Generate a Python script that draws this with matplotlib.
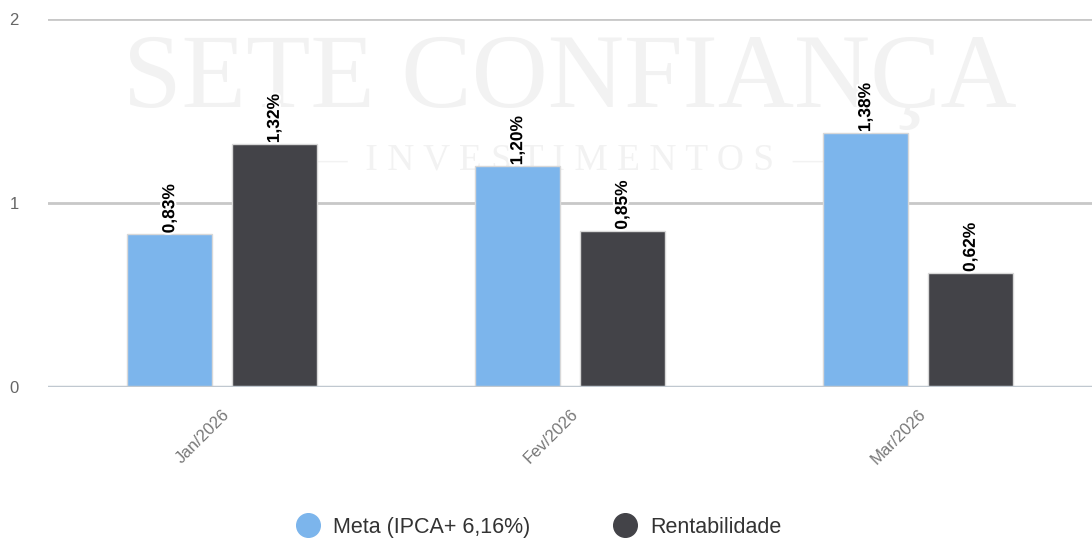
import matplotlib.pyplot as plt
import matplotlib.patheffects as pe
import numpy as np

plt.rcParams["font.family"] = ["Liberation Sans", "DejaVu Sans"]

# --- data ---
meses = ["Jan/2026", "Fev/2026", "Mar/2026"]
meta = [0.83, 1.20, 1.38]
rentabilidade = [1.32, 0.85, 0.62]
rotulos_meta = ["0,83%", "1,20%", "1,38%"]
rotulos_rent = ["1,32%", "0,85%", "0,62%"]
series_nomes = ["Meta (IPCA+ 6,16%)", "Rentabilidade"]

azul = "#7cb5ec"
escuro = "#434348"

fig = plt.figure(figsize=(10.92, 5.38), dpi=100)
ax = fig.add_axes([0.044, 0.2807, 0.956, 0.684])

x = np.arange(len(meses))
w = 0.244
gap = 0.057
off = (w + gap) / 2

b1 = ax.bar(x - off, meta, w, color=azul, edgecolor="#d8d8d8", linewidth=1, zorder=3)
b2 = ax.bar(x + off, rentabilidade, w, color=escuro, edgecolor="#d8d8d8", linewidth=1, zorder=3)

# rotulos das barras
halo = [pe.withStroke(linewidth=3, foreground="white")]
for bars, labs in [(b1, rotulos_meta), (b2, rotulos_rent)]:
    for b, lab in zip(bars, labs):
        ax.text(b.get_x() + b.get_width() / 2, b.get_height() + 0.005, lab,
                rotation=90, ha="center", va="bottom", fontsize=12.5,
                fontweight="bold", color="black", path_effects=halo, zorder=5)

# marca d'agua
ax.text(0.5, 0.83, "SETE CONFIANÇA", transform=ax.transAxes, ha="center",
        va="center", fontsize=76, family="Liberation Serif", color="#f2f2f2", zorder=1)
ax.text(0.5, 0.615, "—  I N V E S T I M E N T O S  —", transform=ax.transAxes,
        ha="center", va="center", fontsize=27, family="Liberation Serif",
        color="#f2f2f2", zorder=1)

ax.set_xlim(-0.5, 2.5)
ax.set_ylim(0, 2)
ax.set_yticks([0, 1, 2])
ax.yaxis.grid(True, color="#c8c8c8", linewidth=2, zorder=0)
ax.set_axisbelow(True)
for s in ax.spines.values():
    s.set_visible(False)
ax.axhline(0, color="#c0c8d0", linewidth=2.5, zorder=4)
ax.tick_params(axis="y", length=0, pad=21, labelsize=12, labelcolor="#666666")
ax.tick_params(axis="x", length=0, pad=14, labelsize=12, labelcolor="#777777")
ax.set_xticks(x)
ax.set_xticklabels(meses, rotation=45, ha="right", rotation_mode="anchor")

# legenda
h1 = plt.Line2D([], [], marker="o", linestyle="", markersize=17, color=azul)
h2 = plt.Line2D([], [], marker="o", linestyle="", markersize=17, color=escuro)
fig.legend([h1, h2], series_nomes, loc="center", bbox_to_anchor=(0.493, 0.02),
           ncol=2, frameon=False, prop={"size": 15.5},
           handlelength=1.2, handletextpad=0.55, columnspacing=3.8,
           labelcolor="#333333")

fig.savefig("out.png", dpi=100)
